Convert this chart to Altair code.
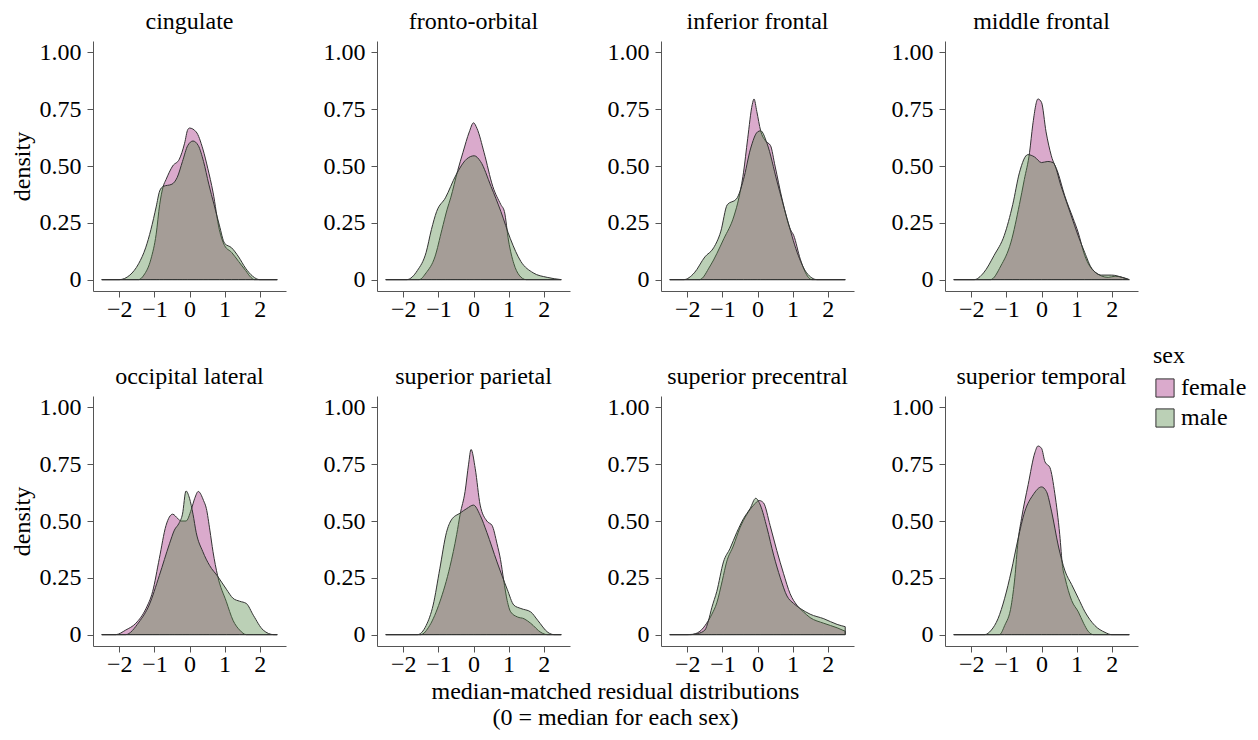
import altair as alt
import pandas as pd

FONT = "Liberation Serif"
REGIONS = ["cingulate", "fronto-orbital", "inferior frontal", "middle frontal",
           "occipital lateral", "superior parietal", "superior precentral", "superior temporal"]
SEXES = ["female", "male"]
FILLS = ["#a22a7f", "#558948"]
LEGEND_FILLS = ["#daaacc", "#bbd0b6"]
X_TICKS = [-2, -1, 0, 1, 2]
Y_TICKS = [0, 0.25, 0.5, 0.75, 1.0]
X_TITLE = ["median-matched residual distributions", "(0 = median for each sex)"]

# cingulate
CING_F_X = [-2.5, -1.45, -1.3, -1.1, -0.95, -0.85, -0.75, -0.67, -0.48, -0.29, -0.14, -0.05, 0.0, 0.19, 0.38, 0.52, 0.67, 0.85, 1.0, 1.2, 1.4, 1.6, 1.75, 1.85, 2.5]
CING_F_Y = [0, 0, 0.02, 0.09, 0.2, 0.33, 0.41, 0.44, 0.5, 0.53, 0.6, 0.66, 0.667, 0.65, 0.575, 0.49, 0.385, 0.22, 0.15, 0.12, 0.08, 0.04, 0.01, 0, 0]
CING_M_X = [-2.5, -2.0, -1.7, -1.45, -1.25, -1.1, -0.95, -0.85, -0.75, -0.5, -0.35, -0.2, -0.05, 0.1, 0.25, 0.4, 0.55, 0.7, 0.85, 1.0, 1.2, 1.4, 1.6, 1.8, 2.0, 2.5]
CING_M_Y = [0, 0, 0.02, 0.07, 0.14, 0.22, 0.32, 0.39, 0.41, 0.42, 0.45, 0.52, 0.59, 0.61, 0.59, 0.52, 0.42, 0.33, 0.24, 0.16, 0.14, 0.1, 0.05, 0.015, 0, 0]

# fronto-orbital
FRON_F_X = [-2.5, -1.55, -1.35, -1.1, -0.9, -0.75, -0.65, -0.45, -0.3, -0.12, 0.0, 0.1, 0.3, 0.55, 0.78, 0.88, 1.0, 1.15, 1.3, 1.5, 2.5]
FRON_F_Y = [0, 0, 0.03, 0.1, 0.22, 0.31, 0.36, 0.48, 0.56, 0.65, 0.69, 0.665, 0.56, 0.41, 0.33, 0.3, 0.17, 0.07, 0.02, 0, 0]
FRON_M_X = [-2.5, -1.9, -1.6, -1.35, -1.2, -1.05, -0.8, -0.5, -0.2, 0.02, 0.2, 0.5, 0.78, 1.05, 1.35, 1.7, 2.1, 2.5]
FRON_M_Y = [0, 0, 0.04, 0.12, 0.22, 0.3, 0.36, 0.46, 0.53, 0.545, 0.52, 0.41, 0.3, 0.18, 0.08, 0.03, 0.01, 0]

# inferior frontal
INFE_F_X = [-2.5, -1.65, -1.35, -0.96, -0.67, -0.53, -0.4, -0.28, -0.15, -0.1, -0.02, 0.09, 0.23, 0.37, 0.5, 0.7, 0.94, 1.03, 1.22, 1.45, 1.55, 2.5]
INFE_F_Y = [0, 0, 0.06, 0.18, 0.28, 0.36, 0.47, 0.62, 0.77, 0.795, 0.74, 0.655, 0.61, 0.59, 0.5, 0.355, 0.22, 0.195, 0.09, 0.01, 0, 0]
INFE_M_X = [-2.5, -2.1, -1.8, -1.5, -1.25, -1.05, -0.86, -0.6, -0.4, -0.2, 0.0, 0.09, 0.27, 0.56, 0.84, 1.13, 1.4, 1.7, 2.5]
INFE_M_Y = [0, 0, 0.03, 0.1, 0.14, 0.21, 0.33, 0.355, 0.44, 0.575, 0.65, 0.655, 0.6, 0.43, 0.27, 0.12, 0.03, 0, 0]

# middle frontal
MIDD_F_X = [-2.5, -1.45, -1.16, -0.87, -0.63, -0.49, -0.34, -0.25, -0.1, 0.0, 0.13, 0.28, 0.47, 0.66, 0.9, 1.04, 1.23, 1.52, 1.9, 2.1, 2.3, 2.5]
MIDD_F_Y = [0, 0, 0.06, 0.165, 0.33, 0.44, 0.56, 0.68, 0.795, 0.78, 0.65, 0.545, 0.47, 0.37, 0.27, 0.21, 0.107, 0.034, 0.01, 0.015, 0.01, 0]
MIDD_M_X = [-2.5, -1.92, -1.65, -1.35, -1.06, -0.82, -0.63, -0.39, -0.2, 0.0, 0.18, 0.33, 0.56, 0.85, 1.04, 1.23, 1.43, 1.71, 2.0, 2.3, 2.5]
MIDD_M_Y = [0, 0, 0.03, 0.107, 0.195, 0.33, 0.47, 0.55, 0.54, 0.515, 0.52, 0.515, 0.41, 0.28, 0.195, 0.12, 0.05, 0.02, 0.02, 0.01, 0]

# occipital lateral
OCCI_F_X = [-2.5, -2.1, -1.82, -1.53, -1.24, -1.05, -0.86, -0.67, -0.48, -0.33, -0.24, -0.1, 0.05, 0.15, 0.25, 0.4, 0.48, 0.58, 0.67, 0.8, 1.05, 1.24, 1.43, 1.62, 2.5]
OCCI_F_Y = [0, 0, 0.02, 0.05, 0.115, 0.19, 0.335, 0.48, 0.53, 0.51, 0.5, 0.5, 0.55, 0.6, 0.63, 0.59, 0.555, 0.46, 0.365, 0.26, 0.145, 0.063, 0.02, 0, 0]
OCCI_M_X = [-2.5, -1.82, -1.44, -1.15, -0.86, -0.57, -0.43, -0.3, -0.2, -0.1, 0.0, 0.1, 0.19, 0.38, 0.57, 0.81, 1.05, 1.24, 1.43, 1.62, 1.82, 2.1, 2.4, 2.5]
OCCI_M_Y = [0, 0, 0.055, 0.13, 0.26, 0.4, 0.46, 0.49, 0.53, 0.632, 0.6, 0.53, 0.45, 0.365, 0.305, 0.255, 0.2, 0.16, 0.147, 0.137, 0.085, 0.02, 0, 0]

# superior parietal
PARI_F_X = [-2.5, -1.5, -1.25, -0.96, -0.67, -0.48, -0.38, -0.24, -0.14, -0.07, 0.05, 0.19, 0.38, 0.53, 0.67, 0.77, 0.86, 0.96, 1.06, 1.25, 1.44, 1.63, 1.92, 2.1, 2.5]
PARI_F_Y = [0, 0, 0.04, 0.144, 0.3, 0.44, 0.53, 0.63, 0.75, 0.815, 0.73, 0.57, 0.5, 0.48, 0.4, 0.33, 0.24, 0.15, 0.1, 0.078, 0.07, 0.05, 0.01, 0, 0]
PARI_M_X = [-2.5, -1.6, -1.35, -1.15, -0.96, -0.77, -0.63, -0.38, -0.19, 0.0, 0.19, 0.38, 0.67, 0.96, 1.15, 1.35, 1.63, 1.83, 2.12, 2.3, 2.5]
PARI_M_Y = [0, 0, 0.04, 0.13, 0.29, 0.45, 0.505, 0.535, 0.555, 0.57, 0.525, 0.45, 0.32, 0.2, 0.13, 0.115, 0.1, 0.063, 0.01, 0, 0]

# superior precentral
PREC_F_X = [-2.5, -1.9, -1.64, -1.45, -1.3, -1.16, -1.0, -0.88, -0.69, -0.5, -0.3, -0.11, 0.05, 0.17, 0.36, 0.55, 0.74, 0.93, 1.12, 1.31, 1.5, 1.89, 2.27, 2.5]
PREC_F_Y = [0, 0, 0.015, 0.05, 0.09, 0.14, 0.24, 0.32, 0.39, 0.47, 0.53, 0.57, 0.59, 0.58, 0.48, 0.37, 0.27, 0.18, 0.13, 0.1, 0.075, 0.05, 0.03, 0.015]
PREC_M_X = [-2.5, -2.0, -1.7, -1.5, -1.4, -1.3, -1.16, -0.97, -0.78, -0.59, -0.4, -0.21, -0.05, 0.08, 0.27, 0.46, 0.65, 0.84, 1.03, 1.22, 1.5, 1.89, 2.27, 2.5]
PREC_M_Y = [0, 0, 0.005, 0.02, 0.06, 0.12, 0.19, 0.32, 0.38, 0.45, 0.51, 0.555, 0.6, 0.57, 0.47, 0.35, 0.25, 0.17, 0.137, 0.115, 0.09, 0.07, 0.045, 0.035]

# superior temporal
TEMP_F_X = [-2.5, -1.2, -1.05, -0.86, -0.76, -0.67, -0.57, -0.38, -0.19, -0.1, 0.0, 0.1, 0.24, 0.38, 0.52, 0.6, 0.67, 0.86, 1.05, 1.2, 1.33, 1.48, 2.5]
TEMP_F_Y = [0, 0, 0.04, 0.13, 0.25, 0.41, 0.51, 0.66, 0.8, 0.83, 0.82, 0.76, 0.735, 0.62, 0.44, 0.3, 0.25, 0.15, 0.1, 0.05, 0.015, 0, 0]
TEMP_M_X = [-2.5, -1.62, -1.43, -1.24, -1.05, -0.86, -0.67, -0.48, -0.24, 0.0, 0.14, 0.29, 0.48, 0.67, 0.86, 1.05, 1.24, 1.52, 1.81, 2.0, 2.5]
TEMP_M_Y = [0, 0, 0.02, 0.07, 0.16, 0.28, 0.42, 0.54, 0.615, 0.65, 0.63, 0.54, 0.39, 0.28, 0.22, 0.16, 0.1, 0.04, 0.01, 0, 0]

SERIES = [
    ("cingulate", CING_F_X, CING_F_Y, CING_M_X, CING_M_Y),
    ("fronto-orbital", FRON_F_X, FRON_F_Y, FRON_M_X, FRON_M_Y),
    ("inferior frontal", INFE_F_X, INFE_F_Y, INFE_M_X, INFE_M_Y),
    ("middle frontal", MIDD_F_X, MIDD_F_Y, MIDD_M_X, MIDD_M_Y),
    ("occipital lateral", OCCI_F_X, OCCI_F_Y, OCCI_M_X, OCCI_M_Y),
    ("superior parietal", PARI_F_X, PARI_F_Y, PARI_M_X, PARI_M_Y),
    ("superior precentral", PREC_F_X, PREC_F_Y, PREC_M_X, PREC_M_Y),
    ("superior temporal", TEMP_F_X, TEMP_F_Y, TEMP_M_X, TEMP_M_Y),
]

rows = []
for region, fx, fy, mx, my in SERIES:
    for xv, yv in zip(fx, fy):
        rows.append({"region": region, "sex": "female", "x": xv, "density": yv})
    for xv, yv in zip(mx, my):
        rows.append({"region": region, "sex": "male", "x": xv, "density": yv})
df = pd.DataFrame(rows)

# legend keys: drawn outside the x domain and clipped away, only the legend shows
key_df = pd.DataFrame({"sex": SEXES, "x": [9.0, 9.0], "density": [0.5, 0.5]})

X_SCALE = alt.Scale(domain=[-2.75, 2.75], nice=False, zero=False)
Y_SCALE = alt.Scale(domain=[-0.05, 1.05], nice=False, zero=False)


def x_enc():
    return alt.X("x:Q", scale=X_SCALE, title=None,
                 axis=alt.Axis(values=X_TICKS, labelFont=FONT, labelFontSize=24, labelColor="black",
                               labelPadding=0, tickSize=6, tickColor="#555555", domainColor="#555555",
                               grid=False, labelFlush=False))


def y_enc(col):
    return alt.Y("density:Q", stack=None, scale=Y_SCALE, title="density" if col == 0 else None,
                 axis=alt.Axis(values=Y_TICKS,
                               labelExpr="datum.value == 0 ? '0' : format(datum.value, '.2f')",
                               labelFont=FONT, labelFontSize=24, labelColor="black", labelPadding=6,
                               tickSize=6, tickColor="#555555", domainColor="#555555", grid=False,
                               titleFont=FONT, titleFontSize=24, titleFontWeight="normal",
                               titleColor="black", titlePadding=5))


def panel(region, col, with_legend=False):
    d = df[df["region"] == region]
    area = alt.Chart(d).mark_area(
        interpolate="monotone", fillOpacity=0.4, stroke="#333333", strokeWidth=1
    ).encode(
        x=x_enc(), y=y_enc(col),
        fill=alt.Fill("sex:N", scale=alt.Scale(domain=SEXES, range=FILLS), legend=None),
    )
    props = dict(
        width=193, height=250,
        title=alt.TitleParams(region, font=FONT, fontSize=24, fontWeight="normal", color="black",
                              anchor="middle", frame="group", offset=6),
    )
    if not with_legend:
        return area.properties(**props)
    keys = alt.Chart(key_df).mark_square(
        clip=True, size=330, filled=True, stroke="#333333", strokeWidth=1, opacity=1
    ).encode(
        x=alt.X("x:Q", scale=X_SCALE),
        y=alt.Y("density:Q", scale=Y_SCALE),
        fill=alt.Fill("sex:N", scale=alt.Scale(domain=SEXES, range=LEGEND_FILLS),
                      legend=alt.Legend(
                          title="sex", orient="none", legendX=208, legendY=303,
                          titleFont=FONT, titleFontSize=24, titleFontWeight="normal",
                          titleColor="black", labelFont=FONT, labelFontSize=24, labelColor="black",
                          symbolType="square", symbolSize=330, symbolStrokeColor="#333333",
                          symbolStrokeWidth=1, symbolOpacity=1, rowPadding=6, padding=0,
                          titlePadding=8)),
    )
    return alt.layer(area, keys).resolve_scale(fill="independent").properties(**props)


panels = [panel(r, i % 4, with_legend=(i == 3)) for i, r in enumerate(REGIONS)]

chart = alt.concat(
    *panels, columns=4, spacing={"row": 105, "column": 91}, bounds="flush"
).properties(
    title=alt.TitleParams(X_TITLE, orient="bottom", anchor="middle", font=FONT, fontSize=24,
                          fontWeight="normal", color="black", lineHeight=26, offset=4, dx=-13),
    padding={"left": 2, "top": 2, "right": 0, "bottom": 0},
).configure_view(stroke=None)

chart.save("out.html", embed_options={"renderer": "svg", "actions": False})
